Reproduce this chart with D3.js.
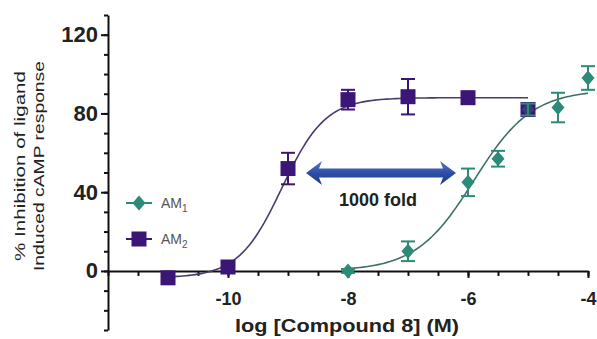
<!DOCTYPE html>
<html lang="en">
<head>
    <meta charset="UTF-8">
    <title>Concentration response – Compound 8</title>
    <style>
        body { margin: 0; background: #fff; font-family: Arial, "Liberation Sans", sans-serif; }
        .axis path, .axis line { stroke: #111; stroke-width: 2; }
        .axis text { font-weight: bold; fill: #222; }
    </style>
</head>
<body>
    <script src="https://d3js.org/d3.v7.min.js"></script>
    <script>
        const width = 597, height = 339;

        // AM1 (teal diamonds)
        const am1Log = [-8, -7, -6, -5.5, -5, -4.5, -4];
        const am1Val = [0, 10, 45, 57, 82, 83, 98];
        const am1Err = [1, 5, 7, 4, 3, 7.5, 6];
        // AM2 (purple squares)
        const am2Log = [-11, -10, -9, -8, -7, -6, -5];
        const am2Val = [-3.5, 2, 52, 87, 88.5, 88, 82];
        const am2Err = [1, 2, 8, 5, 9, 1, 2];
        // fitted curve parameters: [bottom, top, logEC50, hill], range
        const am1Fit = [0, 92, -5.9, 0.9];
        const am2Fit = [-3.5, 88, -9.1, 1.2];
        const am1Range = [-8, -4];
        const am2Range = [-11, -5];

        const xTicks = [-10, -8, -6, -4];
        const yTicks = [0, 40, 80, 120];

        const svg = d3.select("body").append("svg")
            .attr("width", width).attr("height", height);

        const x = d3.scaleLinear().domain([-12, -4]).range([108, 588]);
        const y = d3.scaleLinear().domain([-30, 130]).range([330, 15]);

        // y axis: minor then major
        svg.append("g").attr("class", "axis")
            .attr("transform", "translate(108,0)")
            .call(d3.axisLeft(y).tickValues(d3.range(-30, 131, 10)).tickSize(4).tickSizeOuter(0).tickFormat(""));
        const yAx = svg.append("g").attr("class", "axis")
            .attr("transform", "translate(108,0)")
            .call(d3.axisLeft(y).tickValues(yTicks).tickSize(7).tickPadding(3).tickSizeOuter(0));
        yAx.select(".domain").remove();
        yAx.selectAll("text").style("font-size", "22px");

        // x axis
        svg.append("g").attr("class", "axis")
            .attr("transform", `translate(0,${y(0)})`)
            .call(d3.axisBottom(x).tickValues(d3.range(-12, -3.9, 0.5)).tickSize(5).tickSizeOuter(0).tickFormat(""));
        const xAx = svg.append("g").attr("class", "axis")
            .attr("transform", `translate(0,${y(0)})`)
            .call(d3.axisBottom(x).tickValues(xTicks).tickSize(7).tickPadding(14).tickSizeOuter(0).tickFormat(d => d));
        xAx.select(".domain").remove();
        xAx.selectAll("text").style("font-size", "18px");

        // titles
        svg.append("text")
            .attr("x", 347).attr("y", 332)
            .attr("text-anchor", "middle")
            .attr("textLength", 224).attr("lengthAdjust", "spacingAndGlyphs")
            .style("font-size", "18px").style("font-weight", "bold").style("fill", "#222")
            .text("log [Compound 8] (M)");

        const yt = svg.append("g").attr("transform", "translate(0,166) rotate(-90)");
        yt.append("text").attr("x", 0).attr("y", 25)
            .attr("text-anchor", "middle")
            .attr("textLength", 190).attr("lengthAdjust", "spacingAndGlyphs")
            .style("font-size", "15px").style("fill", "#222")
            .text("% Inhibition of ligand");
        yt.append("text").attr("x", 0).attr("y", 44)
            .attr("text-anchor", "middle")
            .attr("textLength", 210).attr("lengthAdjust", "spacingAndGlyphs")
            .style("font-size", "15px").style("fill", "#222")
            .text("Induced cAMP response");

        // curves
        const logistic = (p, lx) => p[0] + (p[1] - p[0]) / (1 + Math.pow(10, (p[2] - lx) * p[3]));
        const line = d3.line().x(d => x(d[0])).y(d => y(d[1]));
        function curve(fit, rng) {
            const pts = [];
            for (let lx = rng[0]; lx <= rng[1] + 1e-9; lx += 0.05) pts.push([lx, logistic(fit, lx)]);
            return pts;
        }
        svg.append("path").datum(curve(am2Fit, am2Range))
            .attr("d", line).attr("fill", "none")
            .attr("stroke", "#4a3a6e").attr("stroke-width", 1.6);
        svg.append("path").datum(curve(am1Fit, am1Range))
            .attr("d", line).attr("fill", "none")
            .attr("stroke", "#3f6f68").attr("stroke-width", 1.6);

        // error bars + markers
        const am1 = am1Log.map((lx, i) => ({ lx, v: am1Val[i], e: am1Err[i] }));
        const am2 = am2Log.map((lx, i) => ({ lx, v: am2Val[i], e: am2Err[i] }));

        function errBars(data, color) {
            const g = svg.append("g").attr("stroke", color).attr("stroke-width", 2);
            data.forEach(d => {
                g.append("line").attr("x1", x(d.lx)).attr("x2", x(d.lx)).attr("y1", y(d.v - d.e)).attr("y2", y(d.v + d.e));
                [d.v - d.e, d.v + d.e].forEach(v => g.append("line")
                    .attr("x1", x(d.lx) - 7).attr("x2", x(d.lx) + 7).attr("y1", y(v)).attr("y2", y(v)));
            });
        }
        const teal = "#2b8a78", purple = "#3c1677";
        errBars(am2, purple);
        svg.selectAll(".sq").data(am2).join("rect")
            .attr("x", d => x(d.lx) - 7.5).attr("y", d => y(d.v) - 7.5)
            .attr("width", 15).attr("height", 15).attr("fill", purple);
        errBars(am1, teal);
        const diamond = "M0,-7.5L6.5,0L0,7.5L-6.5,0Z";
        svg.selectAll(".dm").data(am1).join("path")
            .attr("transform", d => `translate(${x(d.lx)},${y(d.v)})`)
            .attr("d", diamond).attr("fill", teal).attr("fill-opacity", d => d.lx === -5 ? 0.35 : 1);

        // arrow
        const ax0 = x(-8.7), ax1 = x(-6.2), ay = 173;
        const grad = svg.append("defs").append("linearGradient").attr("id", "ag")
            .attr("x1", 0).attr("x2", 0).attr("y1", 0).attr("y2", 1);
        grad.append("stop").attr("offset", "0%").attr("stop-color", "#5a78c8");
        grad.append("stop").attr("offset", "50%").attr("stop-color", "#2d4ea8");
        grad.append("stop").attr("offset", "100%").attr("stop-color", "#1e3a86");
        const hl = 16, hh = 12, sh = 4.5;
        svg.append("path")
            .attr("d", `M${ax0},${ay} L${ax0 + hl},${ay - hh} L${ax0 + hl - 3},${ay - sh} L${ax1 - hl + 3},${ay - sh} L${ax1 - hl},${ay - hh} L${ax1},${ay} L${ax1 - hl},${ay + hh} L${ax1 - hl + 3},${ay + sh} L${ax0 + hl - 3},${ay + sh} L${ax0 + hl},${ay + hh} Z`)
            .attr("fill", "url(#ag)");
        svg.append("text").attr("x", 378).attr("y", 206)
            .attr("text-anchor", "middle")
            .style("font-size", "18px").style("font-weight", "bold").style("fill", "#222")
            .text("1000 fold");

        // legend
        const leg = [{ name: "1", color: teal, shape: "d", yy: 203 }, { name: "2", color: purple, shape: "s", yy: 239 }];
        leg.forEach(l => {
            svg.append("line").attr("x1", 126).attr("x2", 152).attr("y1", l.yy).attr("y2", l.yy)
                .attr("stroke", l.color).attr("stroke-width", 2);
            if (l.shape === "d") {
                svg.append("path").attr("transform", `translate(139,${l.yy})`).attr("d", diamond).attr("fill", l.color);
            } else {
                svg.append("rect").attr("x", 131.5).attr("y", l.yy - 7.5).attr("width", 15).attr("height", 15).attr("fill", l.color);
            }
            const t = svg.append("text").attr("x", 161).attr("y", l.yy + 5)
                .style("font-size", "14px").style("fill", "#555").text("AM");
            t.append("tspan").attr("dy", 4).style("font-size", "10px").text(l.name);
        });
    </script>
</body>
</html>
